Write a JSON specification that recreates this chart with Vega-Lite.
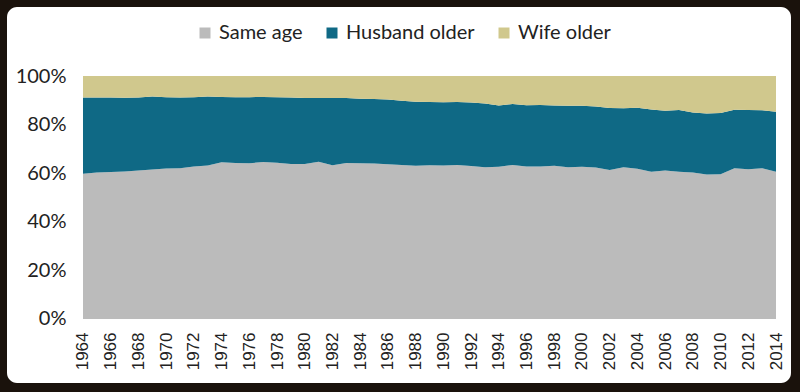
{
  "$schema": "https://vega.github.io/schema/vega-lite/v6.json",
  "width": 784,
  "height": 376,
  "autosize": {"type": "none"},
  "padding": {"left": 7, "top": 7, "right": 9, "bottom": 9},
  "background": "#1a120c",
  "config": {"view": {"fill": "#ffffff", "stroke": null, "cornerRadius": 10}},
  "data": {"values": [
    {"year":1964,"group":"Same age","pct":59.8},{"year":1964,"group":"Husband older","pct":31.4},{"year":1964,"group":"Wife older","pct":8.8},
    {"year":1965,"group":"Same age","pct":60.3},{"year":1965,"group":"Husband older","pct":30.9},{"year":1965,"group":"Wife older","pct":8.8},
    {"year":1966,"group":"Same age","pct":60.5},{"year":1966,"group":"Husband older","pct":30.7},{"year":1966,"group":"Wife older","pct":8.8},
    {"year":1967,"group":"Same age","pct":60.7},{"year":1967,"group":"Husband older","pct":30.4},{"year":1967,"group":"Wife older","pct":8.9},
    {"year":1968,"group":"Same age","pct":61.1},{"year":1968,"group":"Husband older","pct":30.1},{"year":1968,"group":"Wife older","pct":8.8},
    {"year":1969,"group":"Same age","pct":61.5},{"year":1969,"group":"Husband older","pct":30.1},{"year":1969,"group":"Wife older","pct":8.4},
    {"year":1970,"group":"Same age","pct":61.9},{"year":1970,"group":"Husband older","pct":29.4},{"year":1970,"group":"Wife older","pct":8.7},
    {"year":1971,"group":"Same age","pct":62.0},{"year":1971,"group":"Husband older","pct":29.2},{"year":1971,"group":"Wife older","pct":8.8},
    {"year":1972,"group":"Same age","pct":62.8},{"year":1972,"group":"Husband older","pct":28.5},{"year":1972,"group":"Wife older","pct":8.7},
    {"year":1973,"group":"Same age","pct":63.2},{"year":1973,"group":"Husband older","pct":28.4},{"year":1973,"group":"Wife older","pct":8.4},
    {"year":1974,"group":"Same age","pct":64.5},{"year":1974,"group":"Husband older","pct":26.9},{"year":1974,"group":"Wife older","pct":8.6},
    {"year":1975,"group":"Same age","pct":64.2},{"year":1975,"group":"Husband older","pct":27.1},{"year":1975,"group":"Wife older","pct":8.7},
    {"year":1976,"group":"Same age","pct":64.1},{"year":1976,"group":"Husband older","pct":27.2},{"year":1976,"group":"Wife older","pct":8.7},
    {"year":1977,"group":"Same age","pct":64.6},{"year":1977,"group":"Husband older","pct":26.8},{"year":1977,"group":"Wife older","pct":8.6},
    {"year":1978,"group":"Same age","pct":64.3},{"year":1978,"group":"Husband older","pct":27.0},{"year":1978,"group":"Wife older","pct":8.7},
    {"year":1979,"group":"Same age","pct":63.8},{"year":1979,"group":"Husband older","pct":27.4},{"year":1979,"group":"Wife older","pct":8.8},
    {"year":1980,"group":"Same age","pct":63.8},{"year":1980,"group":"Husband older","pct":27.1},{"year":1980,"group":"Wife older","pct":9.1},
    {"year":1981,"group":"Same age","pct":64.7},{"year":1981,"group":"Husband older","pct":26.2},{"year":1981,"group":"Wife older","pct":9.1},
    {"year":1982,"group":"Same age","pct":63.3},{"year":1982,"group":"Husband older","pct":27.6},{"year":1982,"group":"Wife older","pct":9.1},
    {"year":1983,"group":"Same age","pct":64.2},{"year":1983,"group":"Husband older","pct":26.8},{"year":1983,"group":"Wife older","pct":9.0},
    {"year":1984,"group":"Same age","pct":64.1},{"year":1984,"group":"Husband older","pct":26.5},{"year":1984,"group":"Wife older","pct":9.4},
    {"year":1985,"group":"Same age","pct":64.0},{"year":1985,"group":"Husband older","pct":26.5},{"year":1985,"group":"Wife older","pct":9.5},
    {"year":1986,"group":"Same age","pct":63.7},{"year":1986,"group":"Husband older","pct":26.6},{"year":1986,"group":"Wife older","pct":9.7},
    {"year":1987,"group":"Same age","pct":63.4},{"year":1987,"group":"Husband older","pct":26.4},{"year":1987,"group":"Wife older","pct":10.2},
    {"year":1988,"group":"Same age","pct":63.1},{"year":1988,"group":"Husband older","pct":26.3},{"year":1988,"group":"Wife older","pct":10.6},
    {"year":1989,"group":"Same age","pct":63.3},{"year":1989,"group":"Husband older","pct":26.0},{"year":1989,"group":"Wife older","pct":10.7},
    {"year":1990,"group":"Same age","pct":63.2},{"year":1990,"group":"Husband older","pct":26.0},{"year":1990,"group":"Wife older","pct":10.8},
    {"year":1991,"group":"Same age","pct":63.4},{"year":1991,"group":"Husband older","pct":25.9},{"year":1991,"group":"Wife older","pct":10.7},
    {"year":1992,"group":"Same age","pct":63.0},{"year":1992,"group":"Husband older","pct":26.1},{"year":1992,"group":"Wife older","pct":10.9},
    {"year":1993,"group":"Same age","pct":62.5},{"year":1993,"group":"Husband older","pct":26.2},{"year":1993,"group":"Wife older","pct":11.3},
    {"year":1994,"group":"Same age","pct":62.7},{"year":1994,"group":"Husband older","pct":25.2},{"year":1994,"group":"Wife older","pct":12.1},
    {"year":1995,"group":"Same age","pct":63.4},{"year":1995,"group":"Husband older","pct":25.1},{"year":1995,"group":"Wife older","pct":11.5},
    {"year":1996,"group":"Same age","pct":62.8},{"year":1996,"group":"Husband older","pct":25.2},{"year":1996,"group":"Wife older","pct":12.0},
    {"year":1997,"group":"Same age","pct":62.8},{"year":1997,"group":"Husband older","pct":25.3},{"year":1997,"group":"Wife older","pct":11.9},
    {"year":1998,"group":"Same age","pct":63.1},{"year":1998,"group":"Husband older","pct":24.8},{"year":1998,"group":"Wife older","pct":12.1},
    {"year":1999,"group":"Same age","pct":62.5},{"year":1999,"group":"Husband older","pct":25.3},{"year":1999,"group":"Wife older","pct":12.2},
    {"year":2000,"group":"Same age","pct":62.7},{"year":2000,"group":"Husband older","pct":25.1},{"year":2000,"group":"Wife older","pct":12.2},
    {"year":2001,"group":"Same age","pct":62.3},{"year":2001,"group":"Husband older","pct":25.2},{"year":2001,"group":"Wife older","pct":12.5},
    {"year":2002,"group":"Same age","pct":61.3},{"year":2002,"group":"Husband older","pct":25.5},{"year":2002,"group":"Wife older","pct":13.2},
    {"year":2003,"group":"Same age","pct":62.4},{"year":2003,"group":"Husband older","pct":24.3},{"year":2003,"group":"Wife older","pct":13.3},
    {"year":2004,"group":"Same age","pct":61.8},{"year":2004,"group":"Husband older","pct":25.1},{"year":2004,"group":"Wife older","pct":13.1},
    {"year":2005,"group":"Same age","pct":60.6},{"year":2005,"group":"Husband older","pct":25.6},{"year":2005,"group":"Wife older","pct":13.8},
    {"year":2006,"group":"Same age","pct":61.1},{"year":2006,"group":"Husband older","pct":24.6},{"year":2006,"group":"Wife older","pct":14.3},
    {"year":2007,"group":"Same age","pct":60.6},{"year":2007,"group":"Husband older","pct":25.4},{"year":2007,"group":"Wife older","pct":14.0},
    {"year":2008,"group":"Same age","pct":60.3},{"year":2008,"group":"Husband older","pct":24.7},{"year":2008,"group":"Wife older","pct":15.0},
    {"year":2009,"group":"Same age","pct":59.5},{"year":2009,"group":"Husband older","pct":25.1},{"year":2009,"group":"Wife older","pct":15.4},
    {"year":2010,"group":"Same age","pct":59.6},{"year":2010,"group":"Husband older","pct":25.2},{"year":2010,"group":"Wife older","pct":15.2},
    {"year":2011,"group":"Same age","pct":62.0},{"year":2011,"group":"Husband older","pct":24.1},{"year":2011,"group":"Wife older","pct":13.9},
    {"year":2012,"group":"Same age","pct":61.6},{"year":2012,"group":"Husband older","pct":24.4},{"year":2012,"group":"Wife older","pct":14.0},
    {"year":2013,"group":"Same age","pct":62.0},{"year":2013,"group":"Husband older","pct":23.9},{"year":2013,"group":"Wife older","pct":14.1},
    {"year":2014,"group":"Same age","pct":60.6},{"year":2014,"group":"Husband older","pct":24.7},{"year":2014,"group":"Wife older","pct":14.7}
  ]},
  "transform": [
    {"calculate": "indexof(['Same age', 'Husband older', 'Wife older'], datum.group)", "as": "stackOrder"}
  ],
  "mark": {"type": "area", "interpolate": "linear"},
  "encoding": {
    "x": {
      "field": "year", "type": "quantitative",
      "scale": {"domain": [1958.517, 2015.082], "nice": false, "zero": false},
      "axis": {
        "values": [1964,1966,1968,1970,1972,1974,1976,1978,1980,1982,1984,1986,1988,1990,1992,1994,1996,1998,2000,2002,2004,2006,2008,2010,2012,2014],
        "format": "d", "labelAngle": -90, "offset": -64, "domain": false, "ticks": false, "grid": false,
        "labelPadding": 13, "labelFont": "Liberation Sans", "labelFontSize": 17, "labelColor": "#222222",
        "labelOverlap": false, "labelFlush": false, "title": null
      }
    },
    "y": {
      "field": "pct", "type": "quantitative", "stack": "zero",
      "scale": {"domain": [-26.34, 128.40], "nice": false, "zero": false},
      "axis": {
        "values": [0,20,40,60,80,100], "labelExpr": "datum.value + '%'",
        "offset": -76, "domain": false, "ticks": false, "grid": false,
        "labelPadding": 17, "labelFont": "Lato", "labelFontSize": 20, "labelColor": "#222222",
        "labelOverlap": false, "labelFlush": false, "title": null
      }
    },
    "order": {"field": "stackOrder", "type": "quantitative", "sort": "ascending"},
    "color": {
      "field": "group", "type": "nominal",
      "scale": {"domain": ["Same age", "Husband older", "Wife older"], "range": ["#bbbbbb", "#0f6985", "#d0c88d"]},
      "legend": {
        "orient": "none", "legendX": 188, "legendY": 16, "direction": "horizontal",
        "title": null, "symbolType": "square", "symbolSize": 121, "symbolStrokeWidth": 0,
        "labelFont": "Lato", "labelFontSize": 20, "labelColor": "#222222", "labelOffset": 4,
        "columnPadding": 19
      }
    }
  }
}
